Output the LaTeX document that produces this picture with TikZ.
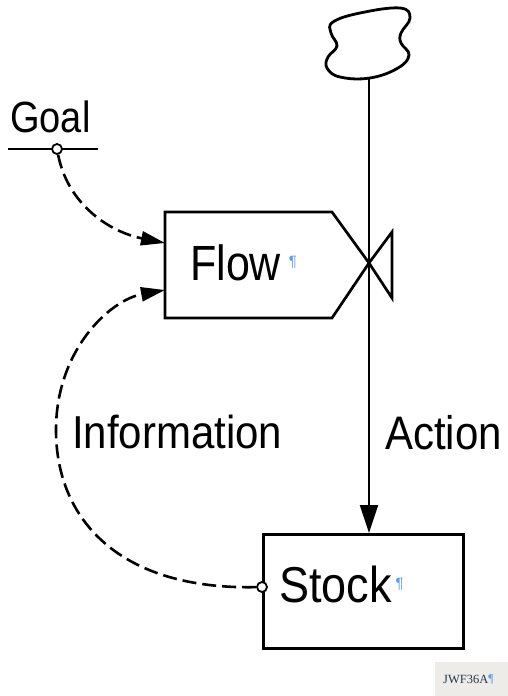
\documentclass[tikz,border=0pt]{standalone}
\usepackage{fontspec}
\setmainfont{Liberation Sans}
\newfontfamily\serifjwf{Liberation Serif}
\usetikzlibrary{arrows.meta}
\definecolor{pilcrow}{RGB}{95,155,235}
\definecolor{tagbg}{RGB}{237,236,232}
\definecolor{tagtext}{RGB}{40,55,80}
\newcommand{\pilc}[1]{\textcolor{pilcrow}{\fontsize{#1}{#1}\selectfont ¶}}
\begin{document}
\begin{tikzpicture}[x=1pt,y=-1pt,
  thick line/.style={line width=2.7pt, line join=miter},
  infolink/.style={line width=2.6pt, dash pattern=on 14pt off 6pt,
    -{Triangle[length=24pt,width=14pt]}},
  actionlink/.style={line width=2.3pt, -{Triangle[length=28pt,width=18pt]}},
  wordlabel/.style={anchor=base west, inner sep=0pt},
  lettering/.style={anchor=base west, inner sep=0pt},
  smallcirc/.style={circle, draw, line width=1.8pt, fill=white, minimum size=10pt, inner sep=0pt}]
\useasboundingbox (0,0) rectangle (508,696);

% key coordinates
\coordinate (valve) at (369,263);
\coordinate (cloudbot) at (369,78);
\coordinate (flowgoalin) at (165,243);
\coordinate (flowinfoin) at (165,290);
\coordinate (infoleft) at (56,430);

% cloud (source)
\draw[line width=2.8pt] plot[smooth cycle, tension=0.7] coordinates
  {(333,22) (360,13) (400,8) (410,18) (401,33) (401,43) (409,55) (398,68)
   (370,78) (340,77) (327,68) (328,57) (337,46) (331,33)};

% Flow box (pointed) and valve
\draw[thick line] (165,212) -- (332,212) -- (valve) -- (332,318) -- (165,318) -- cycle;
\draw[thick line] (valve) -- (392,232) -- (392,298) -- cycle;

% Stock box
\node[draw, line width=2.7pt, minimum width=200pt, minimum height=114pt,
      inner sep=0pt, anchor=north west] (stock) at (262,533) {};
\coordinate (stocktop) at (369,533);
\node[smallcirc] (stockpt) at (262,587) {};

% Goal
\node[lettering] (goallabel) at (10,132)
  {\fontsize{38}{38}\selectfont\scalebox{1}[1.15]{Goal}};
\draw[line width=2pt] (8,149) -- (98,149);
\node[smallcirc] (goalpt) at (57,149) {};

% texts
\node[wordlabel] (flowlabel) at (190,280)
  {\fontsize{43}{43}\selectfont\scalebox{1}[1.15]{Flow}\hspace{8pt}\raisebox{14pt}{\pilc{15}}};
\node[wordlabel] (stocklabel) at (279,602)
  {\fontsize{45}{45}\selectfont\scalebox{1}[1.12]{Stock}\hspace{4pt}\raisebox{14pt}{\pilc{15}}};
\node[lettering] (infolabel) at (72,448)
  {\fontsize{42}{42}\selectfont\scalebox{1}[1.1]{Information}};
\node[lettering] (actionlabel) at (385,449)
  {\fontsize{42}{42}\selectfont\scalebox{1}[1.12]{Action}};

% connectors
\draw[actionlink] (cloudbot) -- (stocktop);
\draw[infolink] (goalpt) .. controls (68,205) and (110,232) .. (flowgoalin);
\draw[infolink] (stockpt) .. controls (120,590) and (56,520) .. (infoleft)
  .. controls (56,350) and (110,300) .. (flowinfoin);

% tag
\node[fill=tagbg, minimum width=73pt, minimum height=34pt, inner sep=0pt,
      anchor=south east] (tag) at (508,696) {};
\node[anchor=base west, inner sep=0pt, text=tagtext,
      font=\serifjwf\fontsize{12.5}{12.5}\selectfont] (taglabel) at (443,683)
  {JWF36A\raisebox{1pt}{\pilc{12}}};
\end{tikzpicture}
\end{document}
